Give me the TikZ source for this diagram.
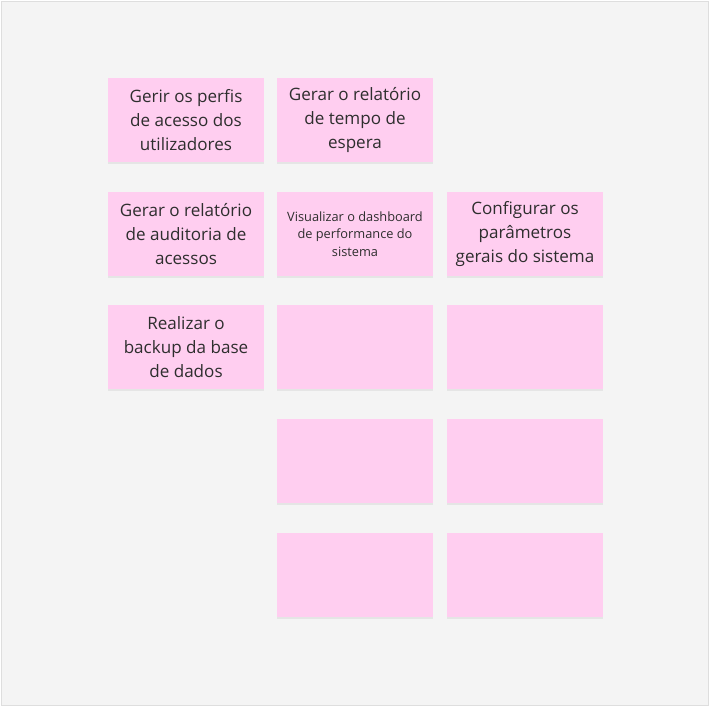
\documentclass[tikz,border=0pt]{standalone}
\usepackage{fontspec}
\setmainfont{Open Sans}
\usetikzlibrary{positioning, shadows}

\definecolor{boardgray}{HTML}{F4F4F4}
\definecolor{boardedge}{HTML}{DEDEDE}
\definecolor{notepink}{HTML}{FFCEF0}
\definecolor{notetext}{HTML}{2E2E2E}

\begin{document}
\begin{tikzpicture}[
    x=0.75pt, y=-0.75pt,
    sticky/.style={rectangle, fill=notepink, minimum width=117pt, minimum height=63pt,
        inner sep=0pt, align=center, text=notetext, font=\fontsize{12.8}{18}\selectfont,
        drop shadow={opacity=0.12, shadow xshift=0pt, shadow yshift=-1.5pt}},
    smalltext/.style={font=\fontsize{9.6}{13.2}\selectfont},
    ]

    % board
    \useasboundingbox (0,0) rectangle (710,708);
    \draw[fill=boardgray, draw=boardedge] (1.5,1.5) rectangle (708,705);

    % ==========================================
    % Notes with text
    % ==========================================
    \node[sticky] (perfis) at (186,120) {Gerir os perfis\\de acesso dos\\utilizadores};
    \node[sticky] (espera) at (355,120) {Gerar o relatório\\de tempo de\\espera};
    \node[sticky] (auditoria) at (186,234) {Gerar o relatório\\de auditoria de\\acessos};
    \node[sticky, smalltext] (dashboard) at (355,234) {Visualizar o dashboard\\de performance do\\sistema};
    \node[sticky] (parametros) at (525,234) {Configurar os\\parâmetros\\gerais do sistema};
    \node[sticky] (backup) at (186,347) {Realizar o\\backup da base\\de dados};

    % ==========================================
    % Empty notes
    % ==========================================
    \foreach \name/\x/\y in {
        vazio1/355/347, vazio2/525/347,
        vazio3/355/461, vazio4/525/461,
        vazio5/355/575, vazio6/525/575}
    {
        \node[sticky] (\name) at (\x,\y) {};
    }

\end{tikzpicture}
\end{document}
